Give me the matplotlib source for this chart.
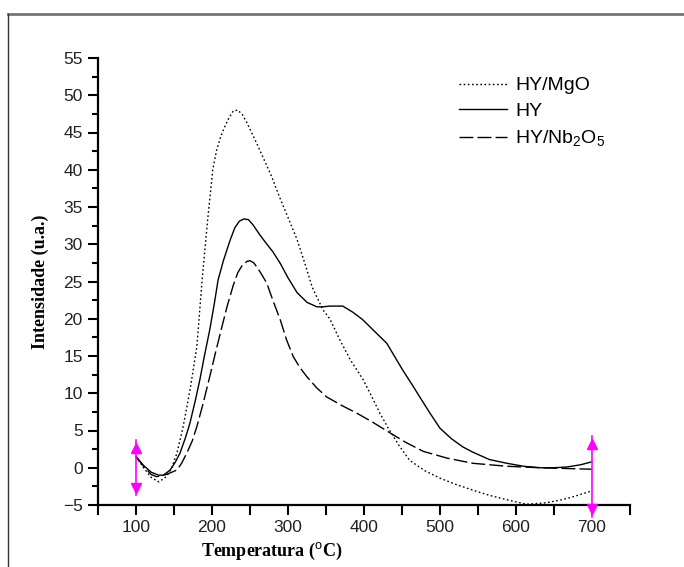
import numpy as np
import matplotlib
matplotlib.use('Agg')
import matplotlib.pyplot as plt
from matplotlib.lines import Line2D
from matplotlib.ticker import MultipleLocator

plt.rcParams['mathtext.fontset'] = 'custom'
plt.rcParams['mathtext.rm'] = 'Liberation Sans'
plt.rcParams['mathtext.it'] = 'Liberation Sans'

# --- data ---
t_mgo = [100, 110, 120, 130, 140, 147, 154, 162, 171, 180, 187, 194, 201, 206, 211, 216,
         222, 228, 234, 240, 246, 252, 260, 267, 278, 289, 300, 312, 322, 332, 346, 355,
         368, 382, 399, 410, 421, 432, 446, 460, 480, 500, 520, 543, 565, 588, 614, 640,
         660, 675, 700]
i_mgo = [1.5, 0.0, -1.3, -1.9, -1.2, 0.0, 2.0, 5.5, 10.4, 16.2, 25.2, 33.0, 40.0, 42.6, 44.3, 45.6,
         46.9, 47.9, 48.0, 47.4, 46.3, 45.0, 43.3, 41.7, 39.2, 36.3, 33.6, 30.6, 27.5, 24.2, 21.2, 20.0,
         17.2, 14.5, 11.8, 9.6, 7.3, 5.3, 3.0, 1.0, -0.4, -1.4, -2.2, -3.0, -3.7, -4.3, -4.9, -4.7,
         -4.3, -3.9, -3.1]

t_hy = [100, 110, 120, 130, 136, 145, 152, 158, 165, 171, 178, 184, 190, 197, 203, 208,
        215, 224, 230, 236, 242, 248, 254, 262, 270, 280, 290, 300, 312, 325, 338, 346,
        355, 372, 385, 398, 412, 430, 451, 463, 474, 487, 500, 515, 530, 543, 565, 588,
        610, 632, 650, 667, 685, 700]
i_hy = [1.5, 0.3, -0.6, -1.0, -1.0, -0.3, 0.8, 2.0, 4.0, 6.0, 9.0, 11.8, 15.0, 18.5, 22.0, 25.2,
        27.8, 30.6, 32.2, 33.1, 33.4, 33.3, 32.6, 31.4, 30.3, 29.0, 27.4, 25.5, 23.5, 22.2, 21.6, 21.6,
        21.7, 21.7, 20.9, 19.9, 18.5, 16.7, 13.1, 11.2, 9.4, 7.3, 5.3, 3.9, 2.8, 2.1, 1.1, 0.6,
        0.2, 0.0, 0.0, 0.1, 0.4, 0.8]

t_nb = [100, 110, 120, 127, 140, 154, 160, 167, 174, 180, 188, 196, 204, 212, 220, 228,
        234, 240, 246, 250, 255, 260, 265, 272, 280, 290, 298, 307, 316, 325, 338, 351,
        370, 391, 410, 434, 455, 478, 509, 543, 588, 632, 700]
i_nb = [1.5, 0.2, -0.9, -1.2, -0.9, -0.3, 0.6, 2.0, 3.6, 5.5, 8.5, 11.8, 15.2, 18.5, 21.7, 24.5,
        26.2, 27.2, 27.7, 27.8, 27.5, 26.8, 26.0, 24.8, 22.5, 19.8, 17.2, 14.9, 13.4, 12.2, 10.7, 9.5,
        8.4, 7.3, 6.2, 4.7, 3.4, 2.2, 1.3, 0.6, 0.2, 0.0, -0.2]

# data-reader cursors (magenta) left in the original screenshot
cursor_x = [100, 700]
cursor_top = [3.7, 4.2]
cursor_bottom = [-3.7, -6.6]

fig = plt.figure(figsize=(6.84, 5.67), dpi=100)
ax = fig.add_axes([98/684, 1-505/567, 532/684, 447/567])

ax.plot(t_mgo, i_mgo, color='black', lw=1.0, ls=(0, (1.2, 1.8)), label='HY/MgO')
ax.plot(t_hy, i_hy, color='black', lw=1.0, ls='-', label='HY')
ax.plot(t_nb, i_nb, color='black', lw=1.0, ls=(0, (10, 3)), label='HY/Nb$_2$O$_5$')

for cx, top, bot in zip(cursor_x, cursor_top, cursor_bottom):
    ax.plot([cx, cx], [bot, top], color='magenta', lw=1.2, clip_on=False, zorder=5)
    ax.plot([cx], [top - 1.0], marker='^', color='magenta', ms=7, clip_on=False, zorder=5)
    ax.plot([cx], [bot + 1.0], marker='v', color='magenta', ms=7, clip_on=False, zorder=5)

ax.set_xlim(50, 750)
ax.set_ylim(-5, 55)
ax.set_xticks(range(100, 701, 100))
ax.xaxis.set_minor_locator(MultipleLocator(50))
ax.yaxis.set_major_locator(MultipleLocator(5))
ax.yaxis.set_minor_locator(MultipleLocator(2.5))

for s in ['top', 'right']:
    ax.spines[s].set_visible(False)
for s in ['left', 'bottom']:
    ax.spines[s].set_linewidth(1.6)

ax.tick_params(which='major', direction='out', length=7, width=1.5, pad=4)
ax.tick_params(which='minor', direction='out', length=7, width=1.5)
ax.tick_params(axis='y', which='minor', length=4)
for lab in ax.get_xticklabels() + ax.get_yticklabels():
    lab.set_family(['Liberation Sans Narrow', 'Liberation Sans'])
    lab.set_fontsize(12.5)
    lab.set_color('#222222')

ax.set_xlabel('Temperatura ($^{\\rm o}$C)', family='Liberation Serif', fontweight='bold', fontsize=13)
ax.xaxis.set_label_coords(0.327, -0.105)
ax.xaxis.label.set_va('center')
ax.set_ylabel('Intensidade (u.a.)', family='Liberation Serif', fontweight='bold', fontsize=13)
ax.yaxis.set_label_coords(-0.109, 0.5)
ax.yaxis.label.set_va('center')

leg = ax.legend(loc='upper left', bbox_to_anchor=(0.645, 0.997), frameon=False,
                prop={'family': 'Liberation Sans', 'size': 14}, handlelength=2.5,
                handletextpad=0.4, labelspacing=0.42)

# screenshot frame
fig.add_artist(Line2D([8/684, 1], [1-14/567, 1-14/567], color='#777777', lw=2))
fig.add_artist(Line2D([8/684, 8/684], [0, 1-14/567], color='#333333', lw=1))

fig.savefig('out.png', dpi=100)
